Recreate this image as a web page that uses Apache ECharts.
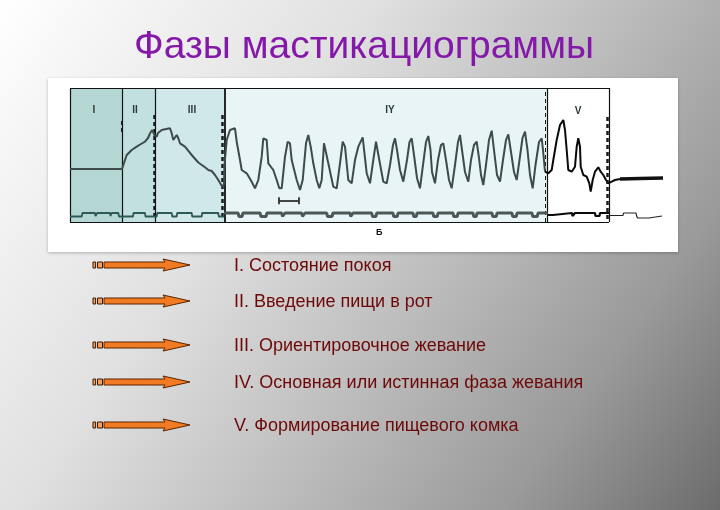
<!DOCTYPE html>
<html>
<head>
<meta charset="utf-8">
<script src="https://cdn.jsdelivr.net/npm/echarts@6/dist/echarts.min.js"></script>
<style>
html,body{margin:0;padding:0;}
#chart{width:720px;height:510px;}
</style>
</head>
<body>
<div id="chart"></div>
<script>
// ---------- data (time units along the record, amplitude units) ----------
const titleText = 'Фазы мастикациограммы';
const phaseLabels = ['I', 'II', 'III', 'IY', 'V'];
const phaseBounds = [0, 52.7, 85, 154.3, 477.7, 539];
const phaseLabelPos = [[24, 112], [65, 112], [122, 112], [320, 112], [508, 111]];
const legendTexts = [
  'I. Состояние покоя',
  'II. Введение пищи в рот',
  'III. Ориентировочное жевание',
  'IV. Основная или истинная фаза жевания',
  'V. Формирование пищевого комка'
];

// chewing record, phases I–IV
const traceMain = [
  [0,53],[52,53],[52,55],[56.7,67],[61.7,72],[66.7,75.3],[71,78],[75,80.3],[78,84],[80,88.7],[82.3,92],[84.3,87],
  [86.7,85.3],[88,89],[91.7,92],[95,92.7],[100,93.7],[101.7,88.7],[103.3,82],[105,83],[106.7,87],[108.3,83.7],
  [110,78.7],[115,75.3],[121.7,67],[128.3,59.5],[135,54.7],[138.3,52],[141.7,51],[145,47],[148.3,42],[150,40],[152.3,35.3],
  [154,38],[154.5,57],[156.7,82],[160,92],[165,93.7],[166.7,80.3],[170,62],[171.7,52],[176.7,48.7],[181.7,40.3],
  [185,33.7],[188.3,42],[191.7,65.3],[193.3,83.7],[196.7,82],[198.3,58.7],[203.3,52],[206.7,42],[209.3,33.7],
  [211.7,33.7],[215,65.3],[217.7,80.3],[220,78.7],[221.7,62],[226.7,42],[230,32],[232.7,42],[236,78.7],[238.3,87],
  [240.7,75.3],[243.3,58.7],[246.7,42],[249.3,33.7],[251.7,42],[254,78.7],[255.5,80],[258.3,58.7],[263.3,35.3],
  [266.7,33.7],[270,58.7],[272.7,80.3],[275,75.3],[278.3,42],[281.7,38.7],[285,62],[288.3,75.3],[292.7,84.7],
  [296.7,48.7],[300,38.7],[303.3,62],[306,80.3],[309.3,62],[313.3,40.3],[316.7,38.7],
  [320,57],[323,77],[325,83.7],[327,72],[330,52],[333.3,40.3],[337,62],[339.5,80],[341.7,83.7],[344,67],[347,44],
  [350,33.7],[353,57],[356,80],[358.3,86],[360.5,72],[362,50],[365,38.7],[368,62],[371,77],[373.3,78.7],[376,62],
  [379,42],[381.7,33.7],[385,57],[388,80],[390,87],[392,72],[395,50],[398.3,40.3],[401,62],[404,77],[406.7,80.3],
  [409,64],[411,47],[413.3,37],[416,57],[419,82],[421.7,91.3],[424,72],[427,47],[430,40.3],[433,62],[436,82],
  [438.3,87.7],[441,70],[444,50],[446.7,42],[449.5,62],[452.5,84],[455,90.3],[457.5,72],[460,47],[462.7,33.7],
  [465.5,57],[469,80],[471.7,83.7],[473,72],[475,50.3]
];
// phase V (black)
const tracePhaseV = [
  [475,50.3],[478.3,48.7],[481.7,52],[483.3,62],[486.7,82],[490,97],[493.3,102],[495,92],[496.7,72],[498.3,52],
  [501.7,50.3],[505,55.3],[506.7,75.3],[508.3,83.7],[510,75.3],[510.7,55.3],[513.3,47],[516.7,45.3],[519.3,38.7],
  [520.7,30.3],[522.7,42],[525,50.3],[528.3,54.7],[530.7,50.3],[533.3,47],[536,42],[538.3,38.7],[541.7,40.3],
  [545,42],[550,43]
];
const traceTail = [[550,43],[570,43.5],[593,44]];

// timing marks (lower trace)
const timingEarly = [
  [0,5.5],[11.7,5.5],[12.5,9],[25,9],[25.5,6],[26.7,6],[27.2,9],[40,9],[40.5,6],[41,6],[41.5,9],[48.3,9],[49,5.5],
  [63,5.5],[63.5,9],[75,9],[75.5,5.5],[86.7,5.5],[87.2,9],[101.7,9],[102.2,5.5],[106.7,5.5],[107.2,9],[121.7,9],
  [122.2,5.5],[131.7,5.5],[132.2,9],[148.3,9],[148.8,5.5],[154,5.5]
];
const timingMain = [
  [154,9],[168,9],[169,5.5],[172,5.5],[173,9],[190,9],[191,5.5],[196,5.5],[197,9],[211.7,9],[212.5,5.5],[214.2,5.5],
  [215,9],[231.7,9],[232.5,5.5],[234.2,5.5],[235,9],[256.7,9],[257.5,5.5],[262,5.5],[263,9],[280,9],[280.7,5.5],
  [282.3,5.5],[283,9],[301.7,9],[302.5,5.5],[306,5.5],[306.7,9],[323,9],[323.7,5.5],[327.3,5.5],[328,9],[343,9],
  [343.7,5.5],[346.3,5.5],[347,9],[363,9],[363.7,5.5],[367.3,5.5],[368,9],[383,9],[383.7,5.5],[387.3,5.5],[388,9],
  [403,9],[403.7,5.5],[406.3,5.5],[407,9],[422,9],[422.7,5.5],[426.3,5.5],[427,9],[442,9],[442.7,5.5],[446.3,5.5],
  [447,9],[462,9],[462.7,5.5],[467.3,5.5],[468,9],[477.7,9]
];
const timingLate = [
  [477.7,7],[483,7],[483.5,9],[502,9],[502.5,6],[504.5,6],[505,9],[525,9],[525.5,6],[529.5,6],[530,9],[539,9]
];
const timingTail = [
  [539,6.5],[553,6.5],[553.5,9],[566,9],[566.5,6.5],[567.5,4],[579,4],[580,6],[592,6]
];
// dashed marker lines: [time, amplitude from, amplitude to, width]
const dashedMarks = [[52, 90, 104, 2], [84.3, 5, 110, 2.5], [152.3, 5, 109, 2.5], [475, 0, 134, 1], [537, 3, 107, 2.5]];
const scaleBar = [208.3, 229, 21.3];

// ---------- chart ----------
const phaseColors = ['#b4d7d4', '#c2e0e0', '#d1e8ea', '#e8f4f6', '#ffffff'];
const chart = echarts.init(document.getElementById('chart'));

const markAreas = [];
for (let i = 0; i < 5; i++) {
  markAreas.push([{ xAxis: phaseBounds[i], yAxis: 0, itemStyle: { color: phaseColors[i] } },
                  { xAxis: phaseBounds[i + 1], yAxis: 134 }]);
}
const xEnd = phaseBounds[5];
const frame = [
  [{ coord: [0, 134] }, { coord: [xEnd, 134] }],
  [{ coord: [0, 0] }, { coord: [xEnd, 0] }]
];
phaseBounds.forEach((b, i) => {
  frame.push([{ coord: [b, 0], lineStyle: { width: i === 3 ? 1.8 : 1.2 } }, { coord: [b, 134] }]);
});
dashedMarks.forEach(d => {
  frame.push([{ coord: [d[0], d[1]], lineStyle: { type: [4, 3], width: d[3], color: '#1a1a1a' } }, { coord: [d[0], d[2]] }]);
});
frame.push([{ coord: [scaleBar[0], scaleBar[2]], lineStyle: { width: 1.8, color: '#333' } }, { coord: [scaleBar[1], scaleBar[2]] }]);
frame.push([{ coord: [scaleBar[0], scaleBar[2] - 3.5], lineStyle: { width: 1.8, color: '#333' } }, { coord: [scaleBar[0], scaleBar[2] + 3.5] }]);
frame.push([{ coord: [scaleBar[1], scaleBar[2] - 3.5], lineStyle: { width: 1.8, color: '#333' } }, { coord: [scaleBar[1], scaleBar[2] + 3.5] }]);

const labelPoints = phaseLabels.map((l, i) => ({ name: l, coord: phaseLabelPos[i] }));

const arrowYs = [265, 301, 345, 382, 425];
const graphics = [
  { type: 'rect', z: 0, shape: { x: 48, y: 78, width: 630, height: 174 },
    style: { fill: '#ffffff', shadowColor: 'rgba(0,0,0,0.25)', shadowBlur: 3, shadowOffsetY: 1 } },
  { type: 'text', z: 10, style: { text: titleText, x: 364, y: 47, textAlign: 'center', textVerticalAlign: 'middle',
      font: '39px "Liberation Sans", Arial, sans-serif', fill: '#8418a8' } },
  { type: 'text', z: 10, style: { text: 'Б', x: 376, y: 233, textAlign: 'left', textVerticalAlign: 'middle',
      font: 'bold 9px "Liberation Sans", Arial, sans-serif', fill: '#111' } }
];
arrowYs.forEach((y, i) => {
  graphics.push({ type: 'rect', z: 10, shape: { x: 93, y: y - 3, width: 2.6, height: 6 },
    style: { fill: '#f5a060', stroke: '#3a1a00', lineWidth: 1 } });
  graphics.push({ type: 'rect', z: 10, shape: { x: 97.5, y: y - 3, width: 5, height: 6 },
    style: { fill: '#f5a060', stroke: '#3a1a00', lineWidth: 1 } });
  graphics.push({ type: 'polygon', z: 10,
    shape: { points: [[104, y - 3], [165, y - 3], [163, y - 6], [190, y], [163, y + 6], [165, y + 3], [104, y + 3]] },
    style: { fill: '#f27a22', stroke: '#5a2400', lineWidth: 1 } });
  graphics.push({ type: 'text', z: 10, style: { text: legendTexts[i], x: 234, y: y + 1, textAlign: 'left',
      textVerticalAlign: 'middle', font: '18px "Liberation Sans", Arial, sans-serif', fill: '#6e0808' } });
});

const baseLine = (data, color, width, extra) => Object.assign({
  type: 'line', data: data, showSymbol: false, symbol: 'none', silent: true, animation: false,
  lineStyle: { color: color, width: width }, z: 5
}, extra || {});

chart.setOption({
  backgroundColor: new echarts.graphic.LinearGradient(0, 0, 1, 1, [
    { offset: 0, color: '#ffffff' },
    { offset: 0.35, color: '#e0e0e0' },
    { offset: 0.6, color: '#bababa' },
    { offset: 0.8, color: '#9a9a9a' },
    { offset: 1, color: '#6c6c6c' }
  ]),
  animation: false,
  grid: { left: 70, top: 88, width: 600, height: 134 },
  xAxis: { type: 'value', min: 0, max: 600, show: false },
  yAxis: { type: 'value', min: 0, max: 134, show: false },
  graphic: graphics,
  series: [
    baseLine(traceMain, '#3d4b4b', 2, {
      markArea: { silent: true, data: markAreas, z: 1 },
      markLine: { silent: true, symbol: ['none', 'none'], label: { show: false },
        lineStyle: { color: '#111', type: 'solid', width: 1.2 }, data: frame, animation: false },
      markPoint: { silent: true, symbol: 'rect', symbolSize: 1, itemStyle: { color: 'rgba(0,0,0,0)' },
        label: { show: true, position: 'inside', formatter: '{b}', color: '#2d3a3a',
          fontSize: 10, fontWeight: 'bold', fontFamily: '"Liberation Sans", Arial, sans-serif' },
        data: labelPoints, animation: false }
    }),
    baseLine(tracePhaseV, '#0a0a0a', 2),
    baseLine(traceTail, '#111111', 3.5),
    baseLine(timingEarly, '#2e5a55', 1.8),
    baseLine(timingMain, '#4d5757', 3),
    baseLine(timingLate, '#0a0a0a', 2.2),
    baseLine(timingTail, '#222222', 1.2)
  ]
});
</script>
</body>
</html>
